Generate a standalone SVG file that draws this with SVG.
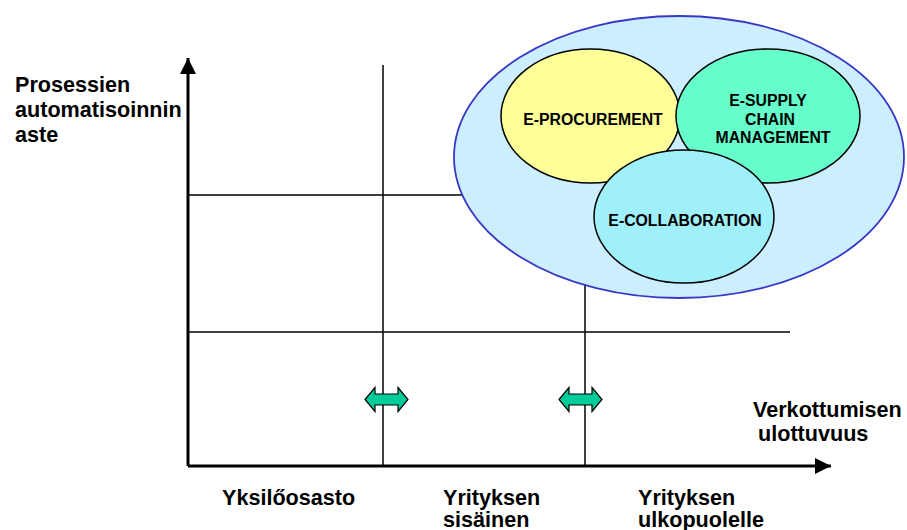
<svg xmlns="http://www.w3.org/2000/svg" width="907" height="530" viewBox="0 0 907 530">
  <style>
    .lbl { font-family: "Liberation Sans", Arial, sans-serif; font-weight: bold; font-size: 21.6px; fill: #000; }
    .in { font-family: "Liberation Sans", Arial, sans-serif; font-weight: bold; font-size: 15.8px; fill: #000; text-anchor: middle; }
    .axis { stroke: #000; stroke-width: 3; fill: none; }
    .grid { stroke: #000; stroke-width: 1.5; fill: none; }
    .oval { stroke: #000; stroke-width: 1.5; }
    .dbl { fill: #00cc99; stroke: #000; stroke-width: 1.2; stroke-linejoin: miter; }
  </style>
  <defs>
    <marker id="ah" markerUnits="userSpaceOnUse" markerWidth="18" markerHeight="16" refX="16" refY="8" orient="auto">
      <path d="M0,0 L16,8 L0,16 Z" fill="#000"/>
    </marker>
    <path id="dblArrow" d="M-21.5,0 L-11.5,-12 L-11.5,-5.5 L11.5,-5.5 L11.5,-12 L21.5,0 L11.5,12 L11.5,5.5 L-11.5,5.5 L-11.5,12 Z"/>
  </defs>

  <rect width="907" height="530" fill="#fff"/>

  <!-- grid and axes -->
  <g id="connectors">
    <line class="grid" x1="188" y1="195" x2="470" y2="195"/>
    <line class="grid" x1="188" y1="332" x2="790" y2="332"/>
    <line class="grid" x1="383" y1="65" x2="383" y2="466"/>
    <line class="grid" x1="585" y1="270" x2="585" y2="466"/>
    <line class="axis" x1="188" y1="466" x2="188" y2="58" marker-end="url(#ah)"/>
    <line class="axis" x1="188" y1="466" x2="831" y2="466" marker-end="url(#ah)"/>
    <use href="#dblArrow" class="dbl" x="386.5" y="399.5"/>
    <use href="#dblArrow" class="dbl" x="580.5" y="399.5"/>
  </g>

  <!-- e-business cluster -->
  <g id="cluster">
    <ellipse cx="679" cy="157" rx="225" ry="141" fill="#cceeff" stroke="#3838c8" stroke-width="1.8"/>
  </g>
  <g id="e-procurement">
    <ellipse class="oval" cx="590.5" cy="116" rx="89.5" ry="67" fill="#ffff99"/>
    <text class="in" x="593" y="125">E-PROCUREMENT</text>
  </g>
  <g id="e-scm">
    <ellipse class="oval" cx="768" cy="116" rx="92" ry="67" fill="#66ffcc"/>
    <text class="in" x="768" y="106">E-SUPPLY</text>
    <text class="in" x="770" y="125">CHAIN</text>
    <text class="in" x="773" y="143">MANAGEMENT</text>
  </g>
  <g id="e-collaboration">
    <ellipse class="oval" cx="684" cy="216.5" rx="90" ry="66.5" fill="#a0f0fb"/>
    <text class="in" x="685" y="226">E-COLLABORATION</text>
  </g>

  <!-- axis titles -->
  <g id="y-title">
    <text class="lbl" x="15" y="92">Prosessien</text>
    <text class="lbl" x="15" y="117">automatisoinnin</text>
    <text class="lbl" x="15" y="142">aste</text>
  </g>
  <g id="x-title">
    <text class="lbl" x="753" y="417">Verkottumisen</text>
    <text class="lbl" x="758" y="441">ulottuvuus</text>
  </g>

  <!-- category labels -->
  <g id="cat-1">
    <text class="lbl" x="222" y="505">Yksilőosasto</text>
  </g>
  <g id="cat-2">
    <text class="lbl" x="443" y="505">Yrityksen</text>
    <text class="lbl" x="443" y="527">sisäinen</text>
  </g>
  <g id="cat-3">
    <text class="lbl" x="638" y="505">Yrityksen</text>
    <text class="lbl" x="638" y="527">ulkopuolelle</text>
  </g>
</svg>
